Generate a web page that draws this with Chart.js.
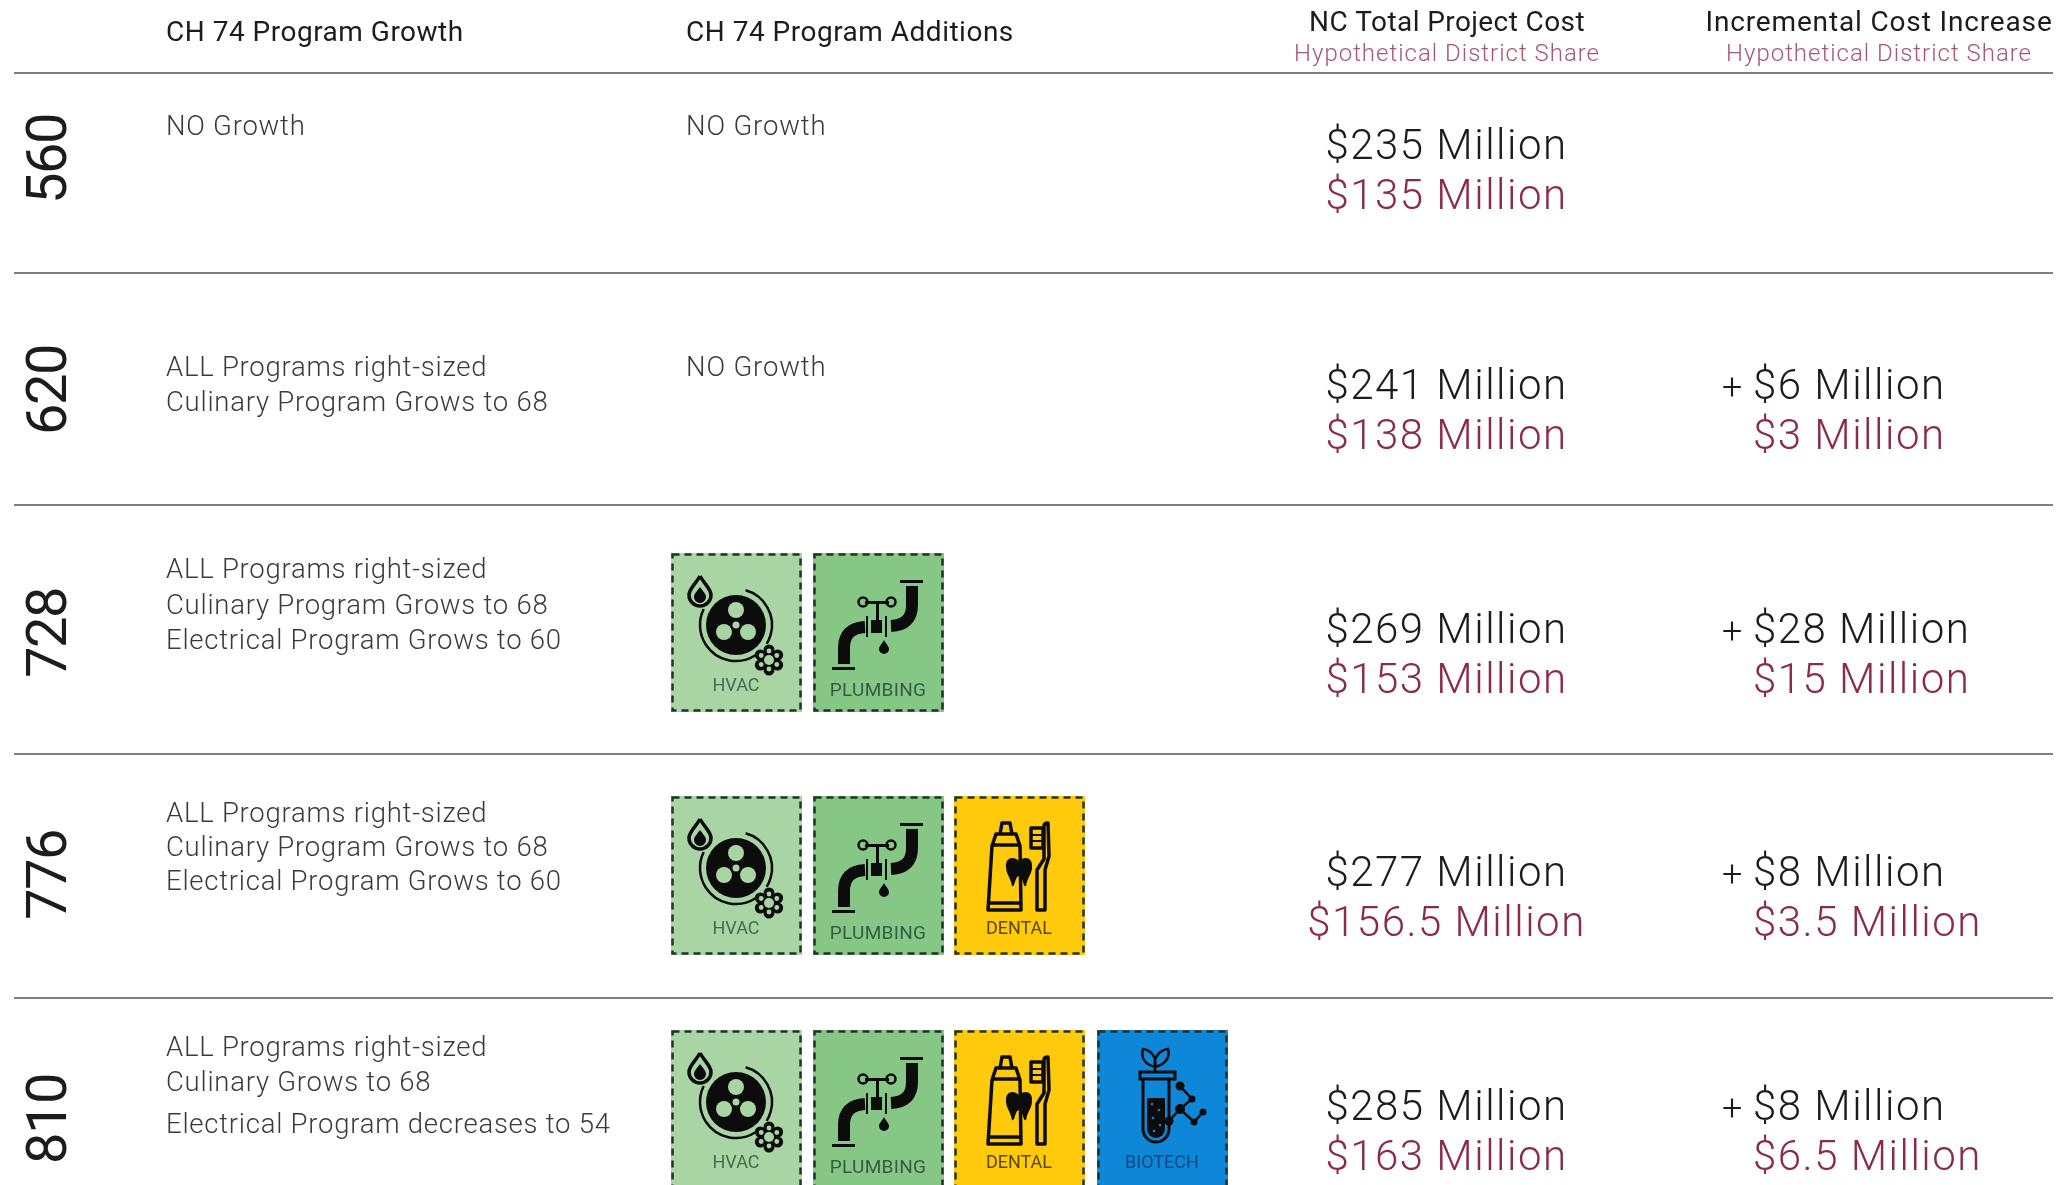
<!DOCTYPE html>
<html>
<head>
<meta charset="utf-8">
<title>CH 74 program options</title>
<script src="https://cdn.jsdelivr.net/npm/chart.js@4"></script>
<style>
  html, body { margin: 0; padding: 0; background: #fff; overflow: hidden; }
  canvas { display: block; }
</style>
</head>
<body>
<canvas id="table" width="2072" height="1185"></canvas>
<script>
// data
const enrollment = [560, 620, 728, 776, 810];
const growthNotes = [
  ["NO Growth"],
  ["ALL Programs right-sized", "Culinary Program Grows to 68"],
  ["ALL Programs right-sized", "Culinary Program Grows to 68", "Electrical Program Grows to 60"],
  ["ALL Programs right-sized", "Culinary Program Grows to 68", "Electrical Program Grows to 60"],
  ["ALL Programs right-sized", "Culinary Grows to 68", "Electrical Program decreases to 54"],
];
const additionsNote = ["NO Growth", "NO Growth", "", "", ""];
const totalCost = [235, 241, 269, 277, 285];
const districtShare = [135, 138, 153, 156.5, 163];
const incrementalCost = [null, 6, 28, 8, 8];
const incrementalShare = [null, 3, 15, 3.5, 6.5];
const programs = ["HVAC", "PLUMBING", "DENTAL", "BIOTECH"];
const programFromRow = [2, 2, 3, 4]; // first row (index) where each program shows up

// layout, in page pixels (the scales below run 0-2072 and 0-1185)
const ruleY = [73, 273, 505, 754, 998];
const ruleLeft = 14, ruleRight = 2053;
const tileLeft = [671, 813, 954, 1097];
const tileTop = [null, null, 553, 796, 1030];
const tileW = 131, tileH = 159;
const rowCenter = [159, 390, 633, 875, 1119];
const noteLines = [[135], [376, 411], [578, 614, 649], [822, 856, 890], [1056, 1091, 1133]];
const costLines = [[159, 209], [399, 449], [643, 693], [886, 936], [1120, 1170]];

const INK = "#1c1c1c", NOTE = "#3a3a3a", WINE = "#8b2a4b", WINE_SOFT = "#a25876";
const LIGHT = "Roboto";

function tileCanvas(name) {
  const c = document.createElement("canvas");
  c.width = tileW; c.height = tileH;
  const g = c.getContext("2d");
  const fills = { HVAC: "#a9d5a5", PLUMBING: "#87c786", DENTAL: "#ffc90c", BIOTECH: "#0f87d8" };
  const labelInk = { HVAC: "#3f6e4c", PLUMBING: "#2f5f3f", DENTAL: "#5a4800", BIOTECH: "#0a4a80" };
  g.fillStyle = fills[name];
  g.fillRect(0, 0, tileW, tileH);
  g.strokeStyle = "#22332a";
  g.lineWidth = 2.5;
  g.setLineDash([7, 5]);
  g.strokeRect(1.5, 1.5, tileW - 3, tileH - 3);
  g.setLineDash([]);
  g.strokeStyle = g.fillStyle = "#0c0c0c";
  g.lineCap = "butt";
  if (name == "HVAC") drawHvac(g, fills[name]);
  if (name == "PLUMBING") drawPlumbing(g);
  if (name == "DENTAL") drawDental(g);
  if (name == "BIOTECH") drawBiotech(g, fills[name]);
  g.fillStyle = labelInk[name];
  g.font = "400 18px Roboto";
  g.textAlign = "center";
  if (name == "PLUMBING") {
    g.font = "400 19px Roboto";
    g.letterSpacing = "0.3px";
  }
  g.fillText(name, 65, name == "PLUMBING" ? 143 : 138);
  return c;
}

function dot(g, x, y, r) { g.beginPath(); g.arc(x, y, r, 0, Math.PI * 2); g.fill(); }
function ring(g, x, y, r, lw) { g.lineWidth = lw; g.beginPath(); g.arc(x, y, r, 0, Math.PI * 2); g.stroke(); }

function drawHvac(g, bg) {
  // drop
  g.lineWidth = 3.5;
  g.beginPath();
  g.moveTo(29, 23);
  g.bezierCurveTo(34, 32, 40, 36, 40, 42);
  g.arc(29, 42, 11, 0, Math.PI);
  g.bezierCurveTo(18, 36, 24, 32, 29, 23);
  g.stroke();
  g.beginPath();
  g.moveTo(29, 34);
  g.bezierCurveTo(32, 38, 35, 41, 35, 44);
  g.arc(29, 44, 6, 0, Math.PI);
  g.bezierCurveTo(23, 41, 26, 38, 29, 34);
  g.fill();
  // fan
  dot(g, 65, 72, 30);
  g.lineWidth = 2.5;
  g.beginPath(); g.arc(65, 72, 36, -1.3, 0.55); g.stroke();
  g.beginPath(); g.arc(65, 72, 36, 1.0, 3.6); g.stroke();
  g.fillStyle = bg;
  dot(g, 65, 57, 8);
  dot(g, 53, 79, 8);
  dot(g, 77, 79, 8);
  g.fillStyle = "#0c0c0c"; dot(g, 65, 72, 6);
  g.fillStyle = bg; dot(g, 65, 72, 3.5);
  // snow gear
  g.fillStyle = "#0c0c0c";
  dot(g, 98, 107, 10);
  for (let i = 0; i < 6; i++) {
    const a = i * Math.PI / 3 - Math.PI / 2;
    dot(g, 98 + Math.cos(a) * 10, 107 + Math.sin(a) * 10, 5.5);
  }
  g.fillStyle = bg;
  dot(g, 98, 107, 5);
  for (let i = 0; i < 6; i++) {
    const a = i * Math.PI / 3 - Math.PI / 2;
    dot(g, 98 + Math.cos(a) * 9, 107 + Math.sin(a) * 9, 2.4);
  }
  g.fillStyle = "#0c0c0c";
}

function drawPlumbing(g) {
  g.fillRect(87, 27, 23, 3);
  g.fillRect(19, 114, 23, 3);
  g.lineWidth = 12;
  g.beginPath(); g.moveTo(99, 33); g.lineTo(99, 52); g.quadraticCurveTo(99, 72, 78, 73); g.stroke();
  g.beginPath(); g.moveTo(52, 74); g.quadraticCurveTo(31, 75, 31, 95); g.lineTo(31, 111); g.stroke();
  g.fillRect(58, 67, 11, 13);
  g.fillRect(53, 63, 2, 21);
  g.fillRect(72, 63, 2, 21);
  g.fillRect(63, 49, 3, 18);
  g.fillRect(52, 48, 24, 3);
  ring(g, 50, 49, 4.5, 2.5);
  ring(g, 78, 49, 4.5, 2.5);
  g.beginPath();
  g.moveTo(71, 87);
  g.bezierCurveTo(73, 91, 76, 93, 76, 96);
  g.arc(71, 96, 5, 0, Math.PI);
  g.bezierCurveTo(66, 93, 69, 91, 71, 87);
  g.fill();
}

function drawDental(g) {
  g.lineWidth = 3.5;
  g.lineJoin = "round";
  // paste tube
  g.beginPath();
  g.moveTo(46, 38); g.lineTo(48, 27); g.lineTo(56, 27); g.lineTo(58, 38);
  g.moveTo(42, 38); g.lineTo(62, 38);
  g.lineTo(66, 50); g.lineTo(67, 114); g.lineTo(34, 114); g.lineTo(38, 50); g.closePath();
  g.moveTo(38, 49); g.lineTo(66, 49);
  g.moveTo(35, 107); g.lineTo(67, 107);
  g.stroke();
  // tooth
  g.fillStyle = "#0c0c0c";
  g.beginPath();
  g.moveTo(65, 65);
  g.bezierCurveTo(70, 60, 79, 61, 78, 71);
  g.bezierCurveTo(78, 78, 74, 80, 72, 90);
  g.bezierCurveTo(69, 92, 69, 80, 65, 80);
  g.bezierCurveTo(61, 80, 61, 92, 58, 90);
  g.bezierCurveTo(56, 80, 52, 78, 52, 71);
  g.bezierCurveTo(51, 61, 60, 60, 65, 65);
  g.fill();
  // brush
  g.beginPath();
  g.moveTo(83, 114); g.lineTo(83, 74); g.lineTo(90, 63); g.lineTo(90, 30);
  g.quadraticCurveTo(90, 27, 94, 27);
  g.lineTo(95, 60); g.lineTo(91, 74); g.lineTo(91, 114); g.closePath();
  g.stroke();
  g.strokeRect(77, 32, 12, 20);
  g.fillRect(77, 38, 12, 2);
  g.fillRect(77, 44, 12, 2);
}

function drawBiotech(g, bg) {
  g.lineWidth = 2.5;
  // leaves
  g.beginPath();
  g.moveTo(58, 37); g.bezierCurveTo(46, 34, 44, 26, 46, 19); g.bezierCurveTo(54, 20, 60, 27, 58, 37);
  g.moveTo(58, 37); g.bezierCurveTo(70, 34, 73, 26, 71, 19); g.bezierCurveTo(63, 20, 56, 27, 58, 37);
  g.moveTo(58, 37); g.lineTo(58, 42);
  g.stroke();
  // test tube
  g.lineWidth = 3;
  g.strokeRect(43, 42, 35, 7);
  g.beginPath();
  g.moveTo(46, 49); g.lineTo(46, 99); g.arc(59, 99, 13, Math.PI, 0, true); g.lineTo(72, 49);
  g.stroke();
  g.beginPath();
  g.moveTo(50, 68); g.lineTo(68, 68); g.lineTo(68, 99); g.arc(59, 99, 9, 0, Math.PI); g.closePath();
  g.fill();
  g.fillStyle = bg;
  [[55, 74], [62, 80], [56, 88], [63, 95], [57, 101]].forEach(p => dot(g, p[0], p[1], 1.3));
  g.fillStyle = "#0c0c0c";
  // molecule
  const nodes = [[83, 56, 4.5], [95, 69, 3.5], [83, 79, 5], [72, 91, 4.5], [97, 92, 3.5], [106, 82, 3.5]];
  g.lineWidth = 2.5;
  g.beginPath();
  g.moveTo(83, 56); g.lineTo(95, 69); g.lineTo(83, 79); g.lineTo(72, 91);
  g.moveTo(83, 79); g.lineTo(97, 92); g.lineTo(106, 82);
  g.stroke();
  nodes.forEach(n => dot(g, n[0], n[1], n[2]));
}

function million(v) { return "$" + v + " Million"; }

// table text sits on top of the scales
const tableText = {
  id: "tableText",
  afterDraw(chart) {
    const g = chart.ctx, sx = chart.scales.x, sy = chart.scales.y;
    const put = (str, x, y, font, color, align, spacing) => {
      g.font = font;
      g.fillStyle = color;
      g.textAlign = align || "left";
      g.letterSpacing = (spacing || 0) + "px";
      g.textBaseline = "alphabetic";
      g.fillText(str, sx.getPixelForValue(x), sy.getPixelForValue(y));
    };
    const head = "400 28px " + LIGHT, sub = "300 24px " + LIGHT;
    const note = "300 27.5px " + LIGHT, cost = "300 42px " + LIGHT;

    put("CH 74 Program Growth", 166, 41, head, INK, "left", 0.5);
    put("CH 74 Program Additions", 686, 41, head, INK, "left", 0.5);
    put("NC Total Project Cost", 1447, 31, head, INK, "center", 0.4);
    put("Hypothetical District Share", 1447, 61, sub, WINE_SOFT, "center", 1);
    put("Incremental Cost Increase", 1879, 31, head, INK, "center", 0.85);
    put("Hypothetical District Share", 1879, 61, sub, WINE_SOFT, "center", 1);

    enrollment.forEach((n, i) => {
      growthNotes[i].forEach((line, k) => put(line, 166, noteLines[i][k], note, NOTE, "left", 0.75));
      if (additionsNote[i]) put(additionsNote[i], 686, noteLines[i][0], note, NOTE, "left", 0.85);
      put(million(totalCost[i]), 1446.5, costLines[i][0], cost, INK, "center", 1.5);
      put(million(districtShare[i]), 1446.5, costLines[i][1], cost, WINE, "center", 1.5);
      if (incrementalCost[i] !== null) {
        put("+", 1722, costLines[i][0], "300 36px " + LIGHT, INK);
        put(million(incrementalCost[i]), 1753, costLines[i][0], cost, INK, "left", 1.5);
        put(million(incrementalShare[i]), 1753, costLines[i][1], cost, WINE, "left", 1.5);
      }
      // rotated enrolment figure at the left edge
      g.save();
      g.translate(sx.getPixelForValue(66), sy.getPixelForValue(rowCenter[i]));
      g.rotate(-Math.PI / 2);
      g.font = "400 56px " + LIGHT;
      g.fillStyle = INK;
      g.textAlign = "center";
      g.letterSpacing = "-1.5px";
      g.fillText(String(n), 0, 0);
      g.restore();
    });
  },
};

const datasets = [];
ruleY.forEach(y => {
  datasets.push({
    showLine: true,
    data: [{ x: ruleLeft, y: y }, { x: ruleRight, y: y }],
    borderColor: "#555",
    borderWidth: 1.5,
    pointRadius: 0,
  });
});
programs.forEach((name, p) => {
  const pts = [];
  enrollment.forEach((n, i) => {
    if (i >= programFromRow[p]) pts.push({ x: tileLeft[p] + tileW / 2, y: tileTop[i] + tileH / 2 });
  });
  datasets.push({ label: name, data: pts, pointStyle: tileCanvas(name), clip: false, pointRadius: 40 });
});

new Chart(document.getElementById("table").getContext("2d"), {
  type: "scatter",
  data: { datasets: datasets },
  options: {
    responsive: false,
    animation: false,
    layout: { padding: 0, autoPadding: false },
    plugins: { legend: { display: false }, tooltip: { enabled: false } },
    scales: {
      x: { type: "linear", min: 0, max: 2072, display: false },
      y: { type: "linear", min: 0, max: 1185, reverse: true, display: false },
    },
  },
  plugins: [tableText],
});
</script>
</body>
</html>
